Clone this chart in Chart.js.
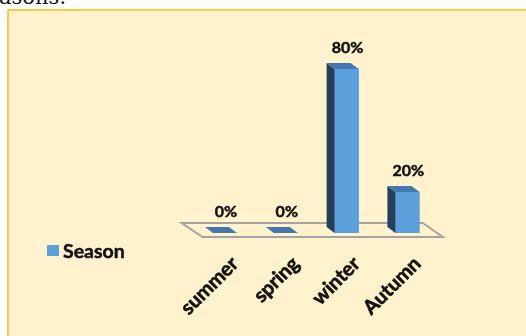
<!DOCTYPE html>
<html>
<head>
<meta charset="utf-8">
<script src="https://cdn.jsdelivr.net/npm/chart.js@4.4.1/dist/chart.umd.min.js"></script>
<style>
  html, body { margin: 0; padding: 0; background: #fff; overflow: hidden; }
  body { width: 526px; height: 336px; position: relative; }
  #lead { position: absolute; left: -1px; top: -15px; font: 21px/24px "DejaVu Serif", serif; color: #111; white-space: nowrap; }
  #box { position: absolute; left: 7px; top: 9px; width: 600px; height: 400px; background: #FFF2CC; border: 2px solid #FFC83D; }
  #chart { position: absolute; left: 0; top: 0; }
  #legend { position: absolute; left: 47px; top: 239px; font: bold 19.5px Lato, sans-serif; color: #111; display: flex; align-items: center; -webkit-text-stroke: 0.5px #111; }
  #legend span.sw { display: inline-block; width: 12px; height: 11px; background: #5B9FDB; margin-right: 4px; }
</style>
</head>
<body>
<div id="lead">asons:</div>
<div id="box"></div>
<canvas id="chart" width="526" height="336"></canvas>
<div id="legend"></div>
<script>
document.addEventListener("DOMContentLoaded", () => {
  const categories = ["summer", "spring", "winter", "Autumn"];
  const seasonValues = [0, 0, 80, 20];
  const seriesName = "Season";

  const frontColor = "#5B9FDB";
  const sideColor = "#243F5C";
  const topColor = "#4477AD";
  const depthX = -8;
  const depthY = -6;

  // legend in html
  const legend = document.getElementById("legend");
  legend.innerHTML = `<span class="sw"></span>${seriesName}`;

  // floor under the bars
  const floorPlugin = {
    id: "floor",
    beforeDatasetsDraw(chart) {
      const { ctx, chartArea } = chart;
      const y0 = chart.scales.y.getPixelForValue(0);
      const fl = chartArea.left + 8, fr = chartArea.right + 5;
      ctx.save();
      ctx.strokeStyle = "#A3A3A3";
      ctx.lineWidth = 2;
      ctx.beginPath();
      ctx.moveTo(fl, y0 + 4);
      ctx.lineTo(fr, y0 + 4);
      ctx.lineTo(fr - 20, y0 - 10);
      ctx.lineTo(fl - 21, y0 - 10);
      ctx.closePath();
      ctx.stroke();
      ctx.restore();
    }
  };

  // side and top faces plus value labels
  const depthPlugin = {
    id: "depth",
    afterDatasetsDraw(chart) {
      const { ctx } = chart;
      const meta = chart.getDatasetMeta(0);
      ctx.save();
      meta.data.forEach((bar, i) => {
        const { x, y, base, width } = bar.getProps(["x", "y", "base", "width"], true);
        const l = x - width / 2, r = x + width / 2;
        if (base - y > 0.5) {
          ctx.fillStyle = sideColor;
          ctx.beginPath();
          ctx.moveTo(l, y);
          ctx.lineTo(l + depthX, y + depthY);
          ctx.lineTo(l + depthX, base + depthY);
          ctx.lineTo(l, base);
          ctx.closePath();
          ctx.fill();
        }
        ctx.fillStyle = topColor;
        ctx.beginPath();
        ctx.moveTo(l, y);
        ctx.lineTo(r, y);
        ctx.lineTo(r + depthX, y + depthY);
        ctx.lineTo(l + depthX, y + depthY);
        ctx.closePath();
        ctx.fill();

        const txt = seasonValues[i] + "%";
        ctx.fillStyle = "#111";
        ctx.strokeStyle = "#111";
        ctx.lineWidth = 0.5;
        ctx.font = "bold 16px Lato, sans-serif";
        ctx.textAlign = "center";
        ctx.textBaseline = "alphabetic";
        ctx.fillText(txt, x + 1, y + depthY - 10);
        ctx.strokeText(txt, x + 1, y + depthY - 10);
      });
      ctx.restore();
    }
  };

  new Chart(document.getElementById("chart"), {
    type: "bar",
    data: {
      labels: categories,
      datasets: [{
        label: seriesName,
        data: seasonValues,
        backgroundColor: frontColor,
        borderWidth: 0,
        barThickness: 24
      }]
    },
    options: {
      responsive: false,
      animation: false,
      devicePixelRatio: 1,
      layout: { padding: { left: 194.6, right: 88.2, top: 28, bottom: 0 } },
      plugins: { legend: { display: false }, tooltip: { enabled: false } },
      scales: {
        y: { display: false, min: 0, max: 100 },
        x: {
          grid: { display: false, drawTicks: false },
          border: { display: false },
          afterFit: (scale) => { scale.height = 103; },
          ticks: {
            autoSkip: false,
            minRotation: 45,
            maxRotation: 45,
            padding: 19,
            labelOffset: 10,
            color: "#111",
            textStrokeColor: "#111",
            textStrokeWidth: 0.6,
            font: { family: "Lato", weight: "bold", size: 20 }
          }
        }
      }
    },
    plugins: [floorPlugin, depthPlugin]
  });
});
</script>
</body>
</html>
